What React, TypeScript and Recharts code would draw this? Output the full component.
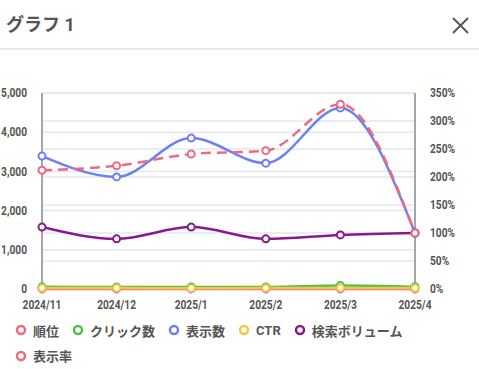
import React from "react";
import { ComposedChart, Line, XAxis, YAxis, CartesianGrid, Legend } from "recharts";

const months = ["2024/11", "2024/12", "2025/1", "2025/2", "2025/3", "2025/4"];
const rank = [3, 3, 3, 3, 3, 3];
const clicks = [55, 50, 50, 50, 90, 60];
const impressions = [3390, 2860, 3850, 3210, 4620, 1430];
const ctr = [1.6, 1.7, 1.3, 1.6, 1.9, 1.6];
const volume = [1580, 1280, 1580, 1280, 1380, 1430];
const displayRate = [212, 220, 241, 247, 330, 100];

const leftTicks = [0, 1000, 2000, 3000, 4000, 5000];
const rightTicks = [0, 50, 100, 150, 200, 250, 300, 350];

const data = months.map((m, i) => ({
  month: m,
  rank: rank[i],
  clicks: clicks[i],
  impressions: impressions[i],
  ctr: ctr[i],
  volume: volume[i],
  displayRate: displayRate[i],
}));

const series = [
  { key: "rank", name: "順位", color: "#f06a7e", axis: "left", dash: undefined },
  { key: "clicks", name: "クリック数", color: "#4cc24a", axis: "left", dash: undefined },
  { key: "impressions", name: "表示数", color: "#6c80f4", axis: "left", dash: undefined },
  { key: "ctr", name: "CTR", color: "#f7c644", axis: "right", dash: undefined },
  { key: "volume", name: "検索ボリューム", color: "#8a1a8c", axis: "left", dash: undefined },
  { key: "displayRate", name: "表示率", color: "#f06a7e", axis: "right", dash: "10 6" },
];

const FONT = "Roboto, 'Noto Sans CJK JP', sans-serif";
const SX = 0.85;

const makeTick =
  (anchor: "start" | "end" | "middle", dy: string, fmt: (v: any) => string) =>
  (props: any) => {
    const { x, y, payload } = props;
    return (
      <text
        x={x}
        y={y}
        dy={dy}
        textAnchor={anchor}
        fill="#555"
        fontSize={12}
        fontWeight={700}
        fontFamily={FONT}
        transform={`translate(${x} 0) scale(${SX} 1) translate(${-x} 0)`}
      >
        {fmt(payload.value)}
      </text>
    );
  };

const LeftTick = makeTick("end", "0.355em", (v: number) => Number(v).toLocaleString("en-US"));
const RightTick = makeTick("start", "0.355em", (v: number) => `${v}%`);
const BottomTick = makeTick("middle", "0.71em", (v: string) => String(v));

const LegendContent = () => (
  <div
    style={{
      height: 60,
      width: 460,
      boxSizing: "border-box",
      paddingTop: 9,
      paddingLeft: 15,
      display: "flex",
      flexWrap: "wrap",
      fontFamily: FONT,
      fontWeight: 700,
      fontSize: 13,
      color: "#555",
    }}
  >
    {series.map((s) => (
      <div
        key={s.key}
        style={{ display: "flex", alignItems: "center", height: 24, marginRight: 13 }}
      >
        <svg width={12} height={12} style={{ marginRight: 6 }}>
          <circle cx={6} cy={6} r={4} fill="#fff" stroke={s.color} strokeWidth={2.5} />
        </svg>
        <span>{s.name}</span>
      </div>
    ))}
  </div>
);

export default function App() {
  return (
    <div
      style={{
        position: "absolute",
        left: 0,
        top: 0,
        width: 479,
        height: 369,
        background: "#fff",
        fontFamily: FONT,
        overflow: "hidden",
      }}
    >
      <div
        style={{
          position: "absolute",
          left: 6,
          top: 12,
          fontSize: 18,
          fontWeight: 700,
          color: "#555",
          lineHeight: "26px",
        }}
      >
        グラフ 1
      </div>
      <svg style={{ position: "absolute", left: 451, top: 16 }} width={19} height={19}>
        <line x1={2} y1={2} x2={17} y2={17} stroke="#555" strokeWidth={2} />
        <line x1={17} y1={2} x2={2} y2={17} stroke="#555" strokeWidth={2} />
      </svg>
      <div
        style={{
          position: "absolute",
          left: 0,
          top: 48,
          width: 479,
          height: 2,
          background: "#e9e9e9",
        }}
      />
      <div style={{ position: "absolute", left: 0, top: 60 }}>
        <ComposedChart
          width={479}
          height={309}
          data={data}
          margin={{ top: 33, right: 0, bottom: 0, left: 0 }}
        >
          <CartesianGrid yAxisId="left" vertical={false} stroke="#e4e7f1" strokeWidth={1.5} />
          <CartesianGrid yAxisId="right" vertical={false} stroke="#e4e7f1" strokeWidth={1.5} />
          <XAxis
            dataKey="month"
            axisLine={false}
            tickLine={{ stroke: "#bbb" }}
            tickSize={5}
            tickMargin={6}
            height={20}
            interval={0}
            tick={BottomTick}
          />
          <YAxis
            yAxisId="left"
            orientation="left"
            domain={[0, 5000]}
            ticks={leftTicks}
            width={42}
            axisLine={{ stroke: "#a5a5ad", strokeWidth: 2 }}
            tickLine={false}
            tickMargin={9}
            tick={LeftTick}
          />
          <YAxis
            yAxisId="right"
            orientation="right"
            domain={[0, 350]}
            ticks={rightTicks}
            width={64}
            axisLine={{ stroke: "#a5a5ad", strokeWidth: 2 }}
            tickLine={false}
            tickMargin={9}
            tick={RightTick}
          />
          <Legend verticalAlign="bottom" align="left" content={<LegendContent />} />
          {series.map((s) => (
            <Line
              key={s.key}
              yAxisId={s.axis}
              type="monotone"
              dataKey={s.key}
              name={s.name}
              stroke={s.color}
              strokeWidth={2.5}
              strokeDasharray={s.dash}
              dot={{ r: 3.5, fill: "#fff", stroke: s.color, strokeWidth: 2, strokeDasharray: "0" }}
              isAnimationActive={false}
            />
          ))}
        </ComposedChart>
      </div>
    </div>
  );
}
